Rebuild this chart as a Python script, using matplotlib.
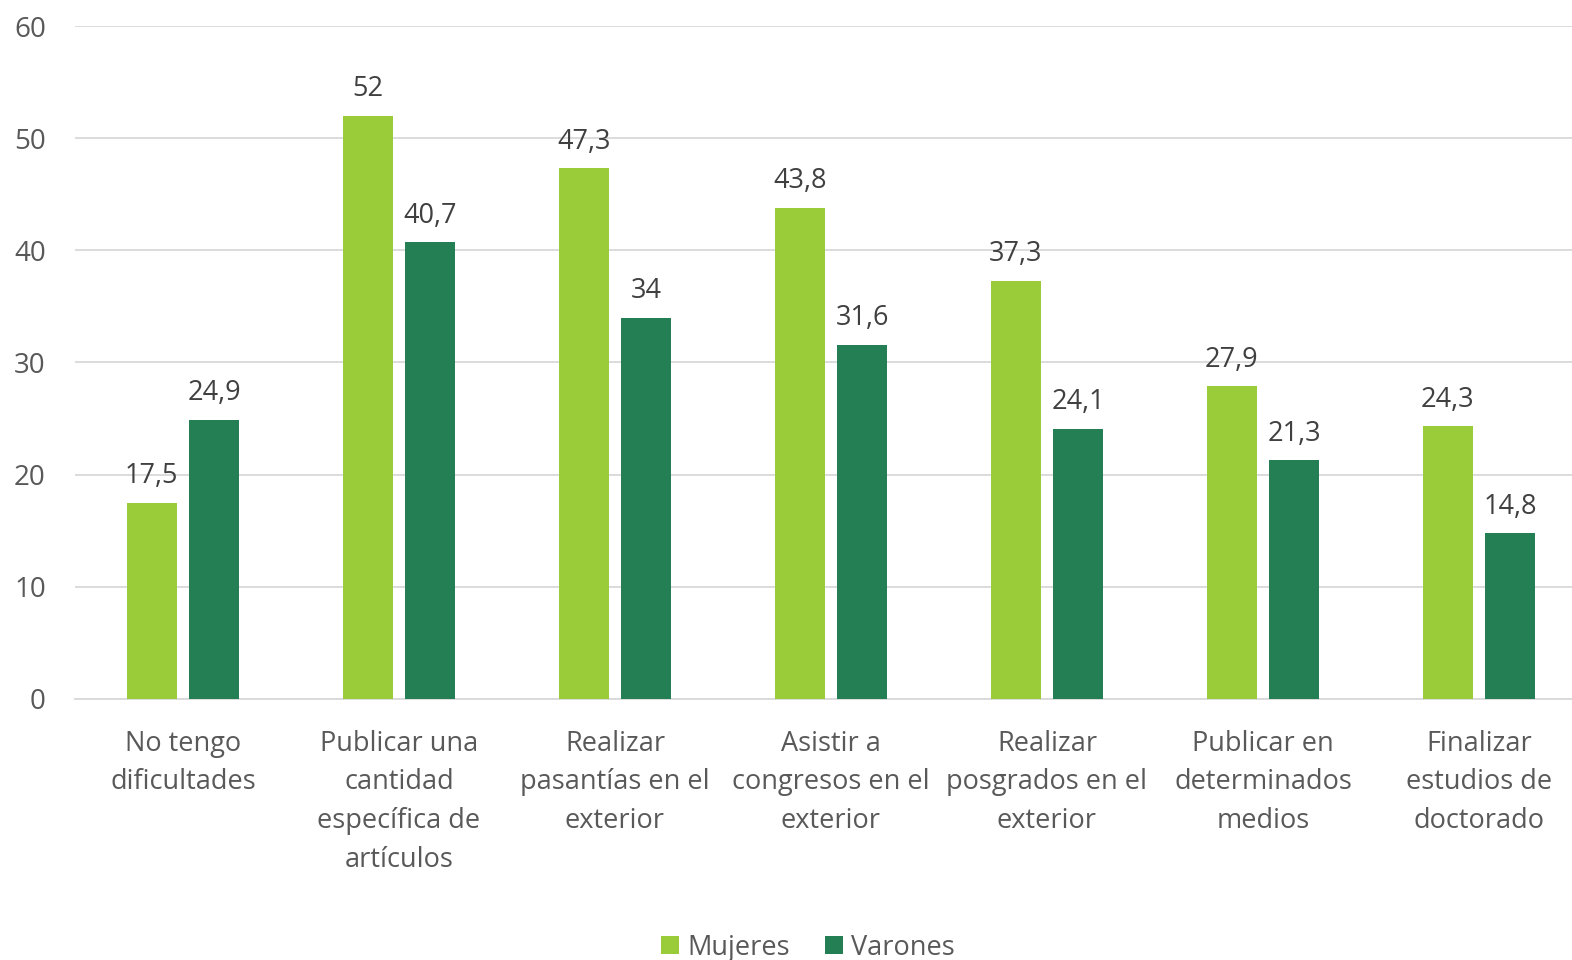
import matplotlib
matplotlib.use("Agg")
import matplotlib.pyplot as plt
import numpy as np

categories = ["No tengo\ndificultades", "Publicar una\ncantidad\nespecífica de\nartículos",
              "Realizar\npasantías en el\nexterior", "Asistir a\ncongresos en el\nexterior",
              "Realizar\nposgrados en el\nexterior", "Publicar en\ndeterminados\nmedios",
              "Finalizar\nestudios de\ndoctorado"]
mujeres = [17.5, 52, 47.3, 43.8, 37.3, 27.9, 24.3]
varones = [24.9, 40.7, 34, 31.6, 24.1, 21.3, 14.8]
labels_m = ["17,5", "52", "47,3", "43,8", "37,3", "27,9", "24,3"]
labels_v = ["24,9", "40,7", "34", "31,6", "24,1", "21,3", "14,8"]
yticks = [0, 10, 20, 30, 40, 50, 60]

plt.rcParams['font.family'] = ['Open Sans', 'DejaVu Sans']
txt = '#595959'
c_m = '#9ACB38'
c_v = '#257F54'
fs = 19.5

fig = plt.figure(figsize=(15.72, 9.6), dpi=100)
ax = fig.add_axes([75 / 1572, 0.2719, 1512 / 1572, 0.701])
x = np.arange(len(categories))
w = 0.23
off = 0.145
bm = ax.bar(x - off, mujeres, w, color=c_m, label='Mujeres', zorder=3)
bv = ax.bar(x + off, varones, w, color=c_v, label='Varones', zorder=3)
for bars, labs in ((bm, labels_m), (bv, labels_v)):
    for b, l in zip(bars, labs):
        ax.annotate(l, (b.get_x() + b.get_width() / 2, b.get_height()), xytext=(0, 19),
                    textcoords='offset points', ha='center', va='center',
                    fontsize=fs, color='#404040')

ax.set_xlim(-0.5, len(categories) - 0.5)
ax.set_ylim(0, 60)
ax.set_yticks(yticks)
ax.set_yticklabels([str(t) for t in yticks], fontsize=20, color=txt)
ax.set_xticks(x)
ax.set_xticklabels(categories, fontsize=fs, color=txt, linespacing=1.52, va='top')
ax.tick_params(axis='both', length=0)
ax.tick_params(axis='x', pad=22)
ax.tick_params(axis='y', pad=21)
ax.grid(axis='y', color='#D9D9D9', linewidth=1.3, zorder=0)
for s in ['top', 'right', 'left']:
    ax.spines[s].set_visible(False)
ax.spines['bottom'].set_color('#D9D9D9')
ax.spines['bottom'].set_linewidth(1.3)

fig.legend(handles=[bm, bv], loc='center', bbox_to_anchor=(0.514, 0.013), ncol=2, frameon=False,
           fontsize=fs, labelcolor=txt, handlelength=0.65, handleheight=0.65, handletextpad=0.3,
           columnspacing=1.3)

fig.savefig('out.png', dpi=100)
